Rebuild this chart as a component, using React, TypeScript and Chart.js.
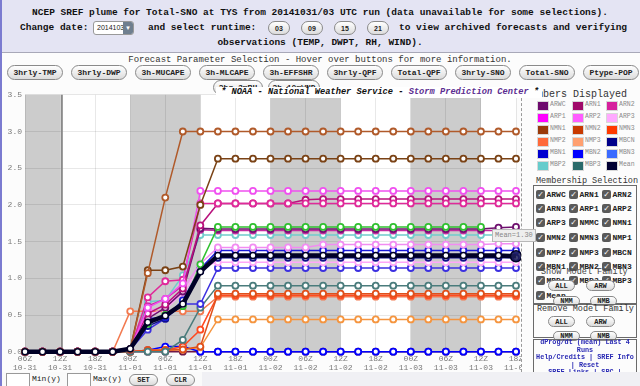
import React, { useEffect, useRef } from "react";
import { Chart, registerables } from "chart.js";

Chart.register(...registerables);

// forecast valid hours after 06Z 10-31 (3-hourly)
const HOURS = [0, 3, 6, 9, 12, 15, 18, 21, 24, 27, 30, 33, 36, 39, 42, 45, 48, 51, 54, 57, 60, 63, 66, 69, 72, 75, 78, 81, 84];
const TICK_TIMES = ["06Z", "12Z", "18Z", "00Z", "06Z", "12Z", "18Z", "00Z", "06Z", "12Z", "18Z", "00Z", "06Z", "12Z", "18Z"];
const TICK_DATES = ["10-31", "10-31", "10-31", "11-01", "11-01", "11-01", "11-01", "11-02", "11-02", "11-02", "11-02", "11-03", "11-03", "11-03", "11-03"];
const NIGHT_BANDS = [[0, 6], [18, 30], [42, 54], [66, 78]];
const MARKER_HOUR = 6.3;
const Y_MAX = 3.5;
const MEAN_LABEL = "Mean=1.30";

const NMN1 = [0, 0, 0, 0, 0, 0, 0.03, 1.07, 2.1, 3.0, 3.0, 3.0, 3.0, 3.0, 3.0, 3.0, 3.0, 3.0, 3.0, 3.0, 3.0, 3.0, 3.0, 3.0, 3.0, 3.0, 3.0, 3.0, 3.0];
const NMMC = [0, 0, 0, 0, 0, 0, 0.03, 1.11, 1.11, 1.16, 2.0, 2.63, 2.63, 2.63, 2.63, 2.63, 2.63, 2.63, 2.63, 2.63, 2.63, 2.63, 2.63, 2.63, 2.63, 2.63, 2.63, 2.63, 2.63];
const ARP2 = [0, 0, 0, 0, 0, 0, 0.03, 0.6, 0.72, 0.93, 2.19, 2.19, 2.19, 2.19, 2.19, 2.19, 2.19, 2.19, 2.19, 2.19, 2.19, 2.19, 2.19, 2.19, 2.19, 2.19, 2.19, 2.19, 2.19];
const ARN2 = [0, 0, 0, 0, 0, 0, 0.03, 0.74, 0.96, 0.98, 2.02, 2.02, 2.02, 2.02, 2.02, 2.02, 2.02, 2.02, 2.02, 2.02, 2.02, 2.02, 2.02, 2.02, 2.02, 2.02, 2.02, 2.02, 2.02];
const ARN1 = [0, 0, 0, 0, 0, 0, 0.03, 0.52, 0.64, 0.86, 1.72, 2.02, 2.02, 2.02, 2.02, 2.02, 2.07, 2.08, 2.08, 2.08, 2.08, 2.08, 2.08, 2.08, 2.08, 2.08, 2.08, 2.08, 2.08];
const NMP1 = [0, 0, 0, 0, 0, 0, 0.03, 0.38, 0.5, 0.62, 1.19, 1.7, 1.7, 1.7, 1.7, 1.7, 1.7, 1.7, 1.7, 1.7, 1.7, 1.7, 1.7, 1.7, 1.7, 1.7, 1.7, null, null];
const ARWC = [0, 0, 0, 0, 0, 0, 0.03, 0.45, 0.6, 0.82, 1.68, 1.67, 1.67, 1.67, 1.67, 1.67, 1.67, 1.67, 1.67, 1.67, 1.67, 1.67, 1.67, 1.67, 1.67, 1.67, 1.67, 1.69, 1.7];
const ARP1 = [0, 0, 0, 0, 0, 0, 0.03, 0.62, 0.72, 0.9, 1.66, 1.65, 1.65, 1.65, 1.65, 1.65, 1.65, 1.65, 1.65, 1.65, 1.65, 1.65, 1.65, 1.65, 1.65, 1.65, 1.65, 1.65, 1.65];
const MBP2 = [0, 0, 0, 0, 0, 0, 0.03, 0.68, 0.7, 1.04, 1.59, 1.59, 1.59, 1.59, 1.59, 1.59, 1.59, 1.59, 1.59, 1.59, 1.59, 1.59, 1.59, 1.59, 1.59, 1.59, 1.59, 1.59, 1.59];
const ARP3 = [0, 0, 0, 0, 0, 0, 0.03, 0.55, 0.62, 0.85, 1.2, 1.42, 1.42, 1.42, 1.42, 1.42, 1.42, 1.46, 1.46, 1.46, 1.46, 1.46, 1.46, 1.46, 1.46, 1.46, 1.46, 1.47, 1.47];
const MBN1 = [0, 0, 0, 0, 0, 0, 0.03, 0.45, 0.47, 0.7, 1.13, 1.38, 1.38, 1.38, 1.38, 1.38, 1.38, 1.38, 1.38, 1.38, 1.38, 1.38, 1.38, 1.38, 1.38, 1.38, 1.38, 1.38, 1.38];
const MBCN = [0, 0, 0, 0, 0, 0, 0.03, 0.35, 0.45, 0.68, 1.1, 1.28, 1.28, 1.28, 1.28, 1.28, 1.28, 1.28, 1.28, 1.28, 1.28, 1.28, 1.28, 1.28, 1.28, 1.28, 1.28, 1.28, 1.28];
const ARN3 = [0, 0, 0, 0, 0, 0, 0.03, 0.5, 0.58, 0.8, 1.15, 1.22, 1.22, 1.22, 1.22, 1.22, 1.22, 1.22, 1.22, 1.22, 1.22, 1.22, 1.22, 1.22, 1.22, 1.22, 1.22, 1.22, 1.22];
const MBN3 = [0, 0, 0, 0, 0, 0, 0.03, 0.3, 0.45, 0.65, 0.65, 1.14, 1.14, 1.14, 1.14, 1.14, 1.14, 1.14, 1.14, 1.14, 1.14, 1.14, 1.14, 1.14, 1.14, 1.14, 1.14, 1.14, 1.14];
const MBP3 = [0, 0, 0, 0, 0, 0, 0, 0, 0, 0.16, 0.6, 0.9, 0.9, 0.9, 0.9, 0.9, 0.9, 0.9, 0.9, 0.9, 0.9, 0.9, 0.9, 0.9, 0.9, 0.9, 0.9, 0.9, 0.9];
const NMN2 = [0, 0, 0, 0, 0, 0, 0, 0.02, 0.02, 0.03, 0.07, 0.79, 0.79, 0.79, 0.79, 0.79, 0.79, 0.79, 0.79, 0.79, 0.79, 0.79, 0.79, 0.79, 0.79, 0.79, 0.79, 0.79, 0.79];
const NMN3 = [0, 0, 0, 0, 0, 0, 0, 0.02, 0.02, 0.07, 0.3, 0.77, 0.77, 0.77, 0.77, 0.77, 0.77, 0.77, 0.77, 0.77, 0.77, 0.77, 0.77, 0.77, 0.77, 0.77, 0.77, 0.77, 0.77];
const NMP2 = [0, 0, 0, 0, 0, 0, 0.55, 0.55, 0.55, 0.55, 0.55, 0.75, 0.75, 0.75, 0.75, 0.75, 0.75, 0.75, 0.75, 0.75, 0.75, 0.75, 0.75, 0.75, 0.75, 0.75, 0.75, 0.75, 0.75];
const NMP3 = [0, 0, 0, 0, 0, 0, 0, 0.02, 0.02, 0.03, 0.06, 0.44, 0.44, 0.44, 0.44, 0.44, 0.44, 0.44, 0.44, 0.44, 0.44, 0.44, 0.44, 0.44, 0.44, 0.44, 0.44, 0.44, 0.44];
const MBN2 = [0, 0, 0, 0, 0, 0, 0, 0.02, 0.07, 0.07, 0, 0, 0, 0, 0, 0, 0, 0, 0, 0, 0, 0, 0, 0, 0, 0, 0, 0, 0];
const MBP1 = [0, 0, 0, 0, 0, 0, 0, 0, 0, 0, 0, 0, 0, 0, 0, 0, 0, 0, 0, 0, 0, 0, 0, 0, 0, 0, 0, 0, 0];
const MEAN = [0, 0, 0, 0, 0, 0, 0.04, 0.4, 0.49, 0.65, 1.09, 1.31, 1.31, 1.31, 1.31, 1.31, 1.31, 1.31, 1.31, 1.31, 1.31, 1.31, 1.31, 1.31, 1.31, 1.31, 1.31, 1.31, 1.3];

const SERIES_NAMES = ["NMN1", "NMMC", "ARP2", "ARN2", "ARN1", "NMP1", "ARWC", "ARP1", "MBP2", "ARP3", "MBN1", "MBCN", "ARN3", "MBN3", "MBP3", "NMN2", "NMN3", "NMP2", "NMP3", "MBN2", "MBP1"];
const SERIES_VALUES = [NMN1, NMMC, ARP2, ARN2, ARN1, NMP1, ARWC, ARP1, MBP2, ARP3, MBN1, MBCN, ARN3, MBN3, MBP3, NMN2, NMN3, NMP2, NMP3, MBN2, MBP1];
const SERIES_COLORS = ["#b05a2a", "#7a4215", "#f050f0", "#e02a9a", "#b8127c", "#30c030", "#6e106e", "#c42aa0", "#70cccc", "#f28cf2", "#1a1ad8", "#10108a", "#ffa8f8", "#3c30e0", "#4a7c7c", "#e0501a", "#ff4a20", "#f27a50", "#f5953f", "#0000ff", "#701848"];
const MEAN_COLOR = "#000026";

const LEGEND_NAMES = ["ARWC", "ARN1", "ARN2", "ARP1", "ARP2", "ARP3", "NMN1", "NMN2", "NMN3", "NMP2", "NMP3", "MBCN", "MBN1", "MBN2", "MBN3", "MBP2", "MBP3", "Mean"];
const LEGEND_COLORS = ["#6d0a6d", "#a00a6a", "#d6209c", "#ff00ff", "#ff5cff", "#ffaaff", "#9a3a0a", "#c83a00", "#ff3a00", "#ff6a3a", "#ffa070", "#00008a", "#0000d0", "#0000ff", "#3a6aff", "#66cccc", "#2a6a6a", "#000033"];
const CHECK_NAMES = ["ARWC", "ARN1", "ARN2", "ARN3", "ARP1", "ARP2", "ARP3", "NMMC", "NMN1", "NMN2", "NMN3", "NMP1", "NMP2", "NMP3", "MBCN", "MBN1", "MBN2", "MBN3", "MBP1", "MBP2", "MBP3", "Mean"];
const PARAM_BUTTONS = ["3hrly-TMP", "3hrly-DWP", "3h-MUCAPE", "3h-MLCAPE", "3h-EFFSHR", "3hrly-QPF", "Total-QPF", "3hrly-SNO", "Total-SNO", "Ptype-POP"];
const RUN_TIMES = ["03", "09", "15", "21"];

const MONO = '"Liberation Mono", "DejaVu Sans Mono", monospace';
const SANS = '"Liberation Sans", Arial, sans-serif';

const bandsPlugin = {
  id: "bands",
  beforeDraw(chart: any) {
    const { ctx, chartArea: a, scales } = chart;
    const x = scales.x;
    ctx.save();
    ctx.fillStyle = "#ffffff";
    ctx.fillRect(a.left, a.top, a.right - a.left, a.bottom - a.top);
    ctx.fillStyle = "#cccccc";
    for (const [s, e] of NIGHT_BANDS) {
      const x0 = x.getPixelForValue(s);
      const x1 = x.getPixelForValue(e);
      ctx.fillRect(x0, a.top, x1 - x0, a.bottom - a.top);
    }
    ctx.restore();
  },
  beforeDatasetsDraw(chart: any) {
    const { ctx, chartArea: a, scales } = chart;
    const xm = scales.x.getPixelForValue(MARKER_HOUR);
    ctx.save();
    ctx.strokeStyle = "#8a8a8a";
    ctx.lineWidth = 2;
    ctx.beginPath();
    ctx.moveTo(xm, a.top);
    ctx.lineTo(xm, a.bottom);
    ctx.stroke();
    ctx.restore();
  },
};

function Pill(props: { left: number; top: number; width: number; height: number; text: string; font?: string; size?: number }) {
  const { left, top, width, height, text, font, size } = props;
  return (
    <div
      style={{
        position: "absolute",
        left,
        top,
        width,
        height,
        boxSizing: "border-box",
        border: "1px solid #8a8a8a",
        borderRadius: height / 2,
        background: "linear-gradient(#ffffff, #dcdcdc)",
        fontFamily: font || MONO,
        fontWeight: "bold",
        fontSize: size || 8,
        color: "#222",
        display: "flex",
        alignItems: "center",
        justifyContent: "center",
        whiteSpace: "nowrap",
        overflow: "hidden",
      }}
    >
      {text}
    </div>
  );
}

function Check(props: { left: number; top: number; name: string }) {
  const { left, top, name } = props;
  return (
    <div style={{ position: "absolute", left, top, display: "flex", alignItems: "center", whiteSpace: "nowrap" }}>
      <div
        style={{
          width: 9,
          height: 9,
          background: "#5a5a5a",
          borderRadius: 2,
          color: "#fff",
          fontSize: 8,
          lineHeight: "9px",
          textAlign: "center",
          fontFamily: '"DejaVu Sans", sans-serif',
        }}
      >
        ✓
      </div>
      <span style={{ marginLeft: 1.5, fontFamily: MONO, fontWeight: "bold", fontSize: 8, color: "#222" }}>{name}</span>
    </div>
  );
}

export default function App() {
  const canvasRef = useRef<HTMLCanvasElement>(null);

  useEffect(() => {
    document.body.style.margin = "0";
    const canvas = canvasRef.current;
    if (!canvas) return;
    const datasets: any[] = SERIES_NAMES.map((name, i) => ({
      label: name,
      data: HOURS.map((h, j) => ({ x: h, y: SERIES_VALUES[i][j] })),
      borderColor: SERIES_COLORS[i],
      backgroundColor: "#ffffff",
      borderWidth: 1.5,
      pointRadius: 3,
      pointBorderWidth: 1.8,
      pointBackgroundColor: "#ffffff",
      pointBorderColor: SERIES_COLORS[i],
      clip: false,
      order: 1,
      spanGaps: false,
    }));
    datasets.push({
      label: "Mean",
      data: HOURS.map((h, j) => ({ x: h, y: MEAN[j] })),
      borderColor: MEAN_COLOR,
      borderWidth: 4.5,
      pointRadius: HOURS.map((_, j) => (j === HOURS.length - 1 ? 5.5 : 3)),
      pointBorderWidth: 1.5,
      pointBackgroundColor: HOURS.map((_, j) => (j === HOURS.length - 1 ? "rgba(30,30,90,0.85)" : "#ffffff")),
      pointBorderColor: MEAN_COLOR,
      clip: false,
      order: 0,
    });

    const chart = new Chart(canvas, {
      type: "line",
      data: { datasets },
      plugins: [bandsPlugin],
      options: {
        animation: false,
        responsive: false,
        devicePixelRatio: 1,
        events: [],
        layout: { padding: { top: 7.8, right: 19, bottom: 0, left: 0 } },
        plugins: { legend: { display: false }, tooltip: { enabled: false } },
        scales: {
          x: {
            type: "linear",
            min: 0,
            max: 84,
            afterFit: (s: any) => {
              s.height = 20.3;
            },
            border: { display: false },
            grid: { color: "rgba(0,0,0,0.09)", drawTicks: false, lineWidth: 1 },
            afterBuildTicks: (s: any) => {
              s.ticks = TICK_TIMES.map((_, i) => ({ value: i * 6 }));
            },
            ticks: {
              autoSkip: false,
              maxRotation: 0,
              padding: 2,
              color: "#7a7a7a",
              font: { family: MONO, size: 8 },
              callback: (v: any) => {
                const i = Math.round(Number(v) / 6);
                return [TICK_TIMES[i], TICK_DATES[i]];
              },
            },
          },
          y: {
            min: 0,
            max: Y_MAX,
            afterFit: (s: any) => {
              s.width = 22;
            },
            border: { display: false },
            grid: { color: "rgba(0,0,0,0.09)", drawTicks: false, lineWidth: 1 },
            ticks: {
              stepSize: 0.5,
              padding: 3,
              color: "#7a7a7a",
              font: { family: MONO, size: 8 },
              callback: (v: any) => Number(v).toFixed(1),
            },
          },
        },
      } as any,
    });
    return () => chart.destroy();
  }, []);

  const legendRows = [105, 117.5, 129.5, 141.5, 153.5, 165.5];
  const legendSwatchX = [537, 572, 606];
  const legendTextX = [550, 585, 619];
  const checkRows = [190, 204, 218, 233, 248, 262, 276, 291];
  const checkCols = [536, 569, 602];

  return (
    <div style={{ position: "relative", width: 640, height: 386, overflow: "hidden", background: "#e4e4f3", fontFamily: MONO }}>
      {/* left border */}
      <div style={{ position: "absolute", left: 0, top: 0, width: 2, height: 386, background: "#7b7bd0" }} />
      {/* title */}
      <div style={{ position: "absolute", left: 0, top: 7, width: 640, textAlign: "center", fontWeight: "bold", fontSize: 9.5, color: "#111", whiteSpace: "nowrap" }}>
        NCEP SREF plume for Total-SNO at TYS from 20141031/03 UTC run (data unavailable for some selections).
      </div>
      <div style={{ position: "absolute", left: 20, top: 22, fontWeight: "bold", fontSize: 9.5, color: "#111", whiteSpace: "nowrap" }}>Change date:</div>
      <div style={{ position: "absolute", left: 93, top: 21, width: 41, height: 14, boxSizing: "border-box", border: "1px solid #999", borderRadius: 3, background: "#fff", fontFamily: SANS, fontSize: 7, lineHeight: "12px", paddingLeft: 3, color: "#222" }}>
        20141031
        <div style={{ position: "absolute", right: 0, top: 0, width: 10, height: 12, background: "#6f7f8f", color: "#fff", fontSize: 6, lineHeight: "12px", textAlign: "center", borderRadius: "0 2px 2px 0" }}>▼</div>
      </div>
      <div style={{ position: "absolute", left: 148, top: 22, fontWeight: "bold", fontSize: 9.5, color: "#111", whiteSpace: "nowrap" }}>and select runtime:</div>
      {RUN_TIMES.map((t, i) => (
        <Pill key={t} left={268 + i * 33} top={21} width={22} height={14} text={t} font={SANS} size={7} />
      ))}
      <div style={{ position: "absolute", left: 399, top: 22, fontWeight: "bold", fontSize: 9.5, color: "#111", whiteSpace: "nowrap" }}>to view archived forecasts and verifying</div>
      <div style={{ position: "absolute", left: 0, top: 37, width: 640, textAlign: "center", fontWeight: "bold", fontSize: 9.5, color: "#111", whiteSpace: "nowrap" }}>
        observations (TEMP, DWPT, RH, WIND).
      </div>

      {/* panel */}
      <div style={{ position: "absolute", left: 2, top: 52, width: 638, height: 320, background: "#fcfcfc", borderTop: "1px solid #a8a8b8" }} />
      <div style={{ position: "absolute", left: 0, top: 55, width: 640, textAlign: "center", fontSize: 9, color: "#333", whiteSpace: "nowrap" }}>
        Forecast Parameter Selection - Hover over buttons for more information.
      </div>
      {PARAM_BUTTONS.map((b, i) => (
        <Pill key={b} left={7 + i * 64} top={65} width={56} height={15} text={b} />
      ))}
      <Pill left={213} top={80} width={50} height={15} text="3hr-2mRH" />
      <Pill left={268} top={80} width={52} height={15} text="3h-10mWND" />

      {/* chart */}
      <canvas ref={canvasRef} width={532} height={285} style={{ position: "absolute", left: 3, top: 87, width: 532, height: 285 }} />

      {/* legend panel */}
      <div style={{ position: "absolute", left: 521, top: 88, width: 119, height: 284, background: "#fcfcfc", borderLeft: "1px dashed #9a9a9a" }} />
      <div style={{ position: "absolute", left: 525, top: 89, fontSize: 10, color: "#333", whiteSpace: "nowrap" }}>Members Displayed</div>
      {LEGEND_NAMES.map((n, i) => {
        const r = Math.floor(i / 3);
        const c = i % 3;
        return (
          <React.Fragment key={n}>
            <div style={{ position: "absolute", left: legendSwatchX[c], top: legendRows[r] - 4.5, width: 10, height: 8, background: LEGEND_COLORS[i], border: "1px solid #d8d8d8" }} />
            <div style={{ position: "absolute", left: legendTextX[c], top: legendRows[r] - 4.5, fontSize: 6.5, color: "#8a8a8a", whiteSpace: "nowrap" }}>{n}</div>
          </React.Fragment>
        );
      })}
      <div style={{ position: "absolute", left: 536, top: 176, fontSize: 8.5, color: "#333", whiteSpace: "nowrap" }}>Membership Selection</div>
      <div style={{ position: "absolute", left: 533, top: 185, width: 104, height: 119, border: "1px solid #6a6a6a", boxSizing: "border-box" }} />
      {CHECK_NAMES.map((n, i) => (
        <Check key={n} left={checkCols[i % 3]} top={checkRows[Math.floor(i / 3)]} name={n} />
      ))}
      <div style={{ position: "absolute", left: 541, top: 267, fontSize: 8.5, color: "#444", whiteSpace: "nowrap" }}>Show Model Family</div>
      <Pill left={548} top={280} width={27} height={11} text="ALL" size={7} />
      <Pill left={586} top={280} width={29} height={11} text="ARW" size={7} />
      <Pill left={553} top={296} width={27} height={10} text="NMM" size={7} />
      <Pill left={590} top={296} width={27} height={10} text="NMB" size={7} />
      <div style={{ position: "absolute", left: 533, top: 304, width: 104, height: 34, border: "1px solid #6a6a6a", boxSizing: "border-box" }} />
      <div style={{ position: "absolute", left: 537, top: 304, fontSize: 8.5, color: "#333", whiteSpace: "nowrap" }}>Remove Model Family</div>
      <Pill left={548} top={316} width={27} height={11} text="ALL" size={7} />
      <Pill left={586} top={316} width={29} height={11} text="ARW" size={7} />
      <Pill left={553} top={331} width={27} height={10} text="NMM" size={7} />
      <Pill left={590} top={331} width={27} height={10} text="NMB" size={7} />
      <div style={{ position: "absolute", left: 533, top: 339, width: 104, height: 40, border: "1px solid #6a6a6a", boxSizing: "border-box" }} />
      <div style={{ position: "absolute", left: 533, top: 339, width: 104, textAlign: "center", fontSize: 6.8, lineHeight: "7.6px", color: "#2a2ab4", fontWeight: "bold" }}>
        dProg/dt (mean) Last 4<br />Runs<br />Help/Credits | SREF Info<br />| Reset<br />SREF Links | SPC |
      </div>

      {/* NOAA banner */}
      <div style={{ position: "absolute", left: 216, top: 87, width: 326, height: 11, background: "#fff", fontSize: 8.7, fontWeight: "bold", fontStyle: "italic", lineHeight: "11px", whiteSpace: "nowrap", color: "#111", paddingLeft: 5, boxSizing: "border-box" }}>
        * NOAA - National Weather Service - <span style={{ color: "#5b2d91" }}>Storm Prediction Center</span> *
      </div>

      {/* mean label */}
      <div style={{ position: "absolute", left: 492, top: 229, height: 11, padding: "0 2px", background: "#eeeeee", border: "1px solid #b8b8b8", fontSize: 7, lineHeight: "11px", color: "#888", whiteSpace: "nowrap" }}>
        {MEAN_LABEL}
      </div>

      {/* bottom controls */}
      <div style={{ position: "absolute", left: 2, top: 372, width: 638, height: 14, background: "#f0f0f4" }} />
      <div style={{ position: "absolute", left: 2, top: 372, width: 200, height: 14, background: "#fafafa" }} />
      <div style={{ position: "absolute", left: 6, top: 373, width: 24, height: 14, background: "#fff", border: "1px solid #999", boxSizing: "border-box" }} />
      <div style={{ position: "absolute", left: 32, top: 374, fontSize: 8, color: "#222" }}>Min(y)</div>
      <div style={{ position: "absolute", left: 67, top: 373, width: 24, height: 14, background: "#fff", border: "1px solid #999", boxSizing: "border-box" }} />
      <div style={{ position: "absolute", left: 93, top: 374, fontSize: 8, color: "#222" }}>Max(y)</div>
      <Pill left={129} top={374} width={29} height={12} text="SET" size={7} />
      <Pill left={166} top={374} width={29} height={12} text="CLR" size={7} />
    </div>
  );
}
